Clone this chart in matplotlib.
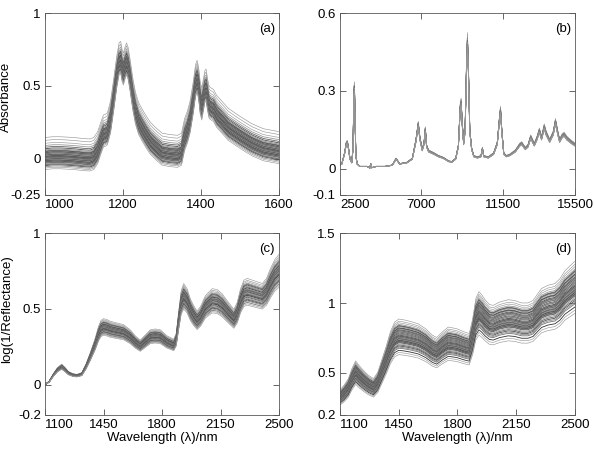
import numpy as np
import matplotlib
matplotlib.use('Agg')
import matplotlib.pyplot as plt

plt.rcParams['font.family'] = ['Liberation Sans', 'DejaVu Sans']

# (a) absorbance spectra, 1000-1600 nm: mean curve + per-sample baseline offsets
a_wl = [1000, 1020, 1040, 1060, 1080, 1100, 1115, 1125, 1135, 1145, 1150, 1155, 1160,
        1168, 1176, 1184, 1190, 1194, 1198, 1201, 1205, 1209, 1213, 1218, 1225, 1232,
        1240, 1250, 1260, 1270, 1285, 1300, 1320, 1340, 1350, 1358, 1365, 1372, 1380,
        1386, 1390, 1394, 1398, 1402, 1406, 1410, 1413, 1417, 1421, 1426, 1432, 1440,
        1450, 1470, 1500, 1530, 1560, 1580, 1600]
a_mean = [0.02, 0.025, 0.025, 0.022, 0.018, 0.012, 0.01, 0.02, 0.06, 0.14, 0.175, 0.18, 0.19,
          0.27, 0.42, 0.58, 0.67, 0.68, 0.62, 0.6, 0.64, 0.67, 0.64, 0.56, 0.43, 0.33,
          0.26, 0.21, 0.165, 0.125, 0.085, 0.05, 0.04, 0.035, 0.05, 0.15, 0.2, 0.27, 0.4,
          0.52, 0.55, 0.5, 0.4, 0.36, 0.42, 0.48, 0.49, 0.42, 0.37, 0.36, 0.35, 0.31,
          0.28, 0.22, 0.165, 0.115, 0.08, 0.07, 0.06]
a_offsets = [0.125, 0.105, 0.085, 0.07, 0.058, 0.048, 0.04, 0.033, 0.028, 0.024, 0.02, 0.016,
             0.012, 0.008, 0.005, 0.002, -0.001, -0.004, -0.007, -0.01, -0.013, -0.016,
             -0.019, -0.022, -0.025, -0.028, -0.031, -0.034, -0.037, -0.04, -0.044, -0.048,
             -0.052, -0.057, -0.062, -0.068, -0.076, -0.085, -0.095]

# (b) Raman-like spectra, 2500-15500: mean curve + per-sample scale
b_wn = [2400, 2600, 2750, 2850, 2900, 2950, 3050, 3150, 3220, 3270, 3300, 3330, 3380, 3450,
        3600, 4000, 4150, 4200, 4250, 4500, 5000, 5400, 5600, 5700, 5800, 6200, 6500, 6700,
        6830, 6920, 7050, 7150, 7220, 7290, 7400, 7700, 7950, 8150, 8300, 8500, 8700, 8900,
        9050, 9150, 9200, 9260, 9340, 9420, 9500, 9550, 9600, 9680, 9780, 9900, 10100, 10300,
        10380, 10450, 10700, 11000, 11200, 11330, 11380, 11450, 11560, 11700, 11900, 12200,
        12450, 12550, 12750, 12900, 13050, 13150, 13250, 13400, 13530, 13650, 13800, 13900,
        14100, 14300, 14420, 14550, 14650, 14800, 14900, 15050, 15300, 15500]
b_mean = [0.012, 0.02, 0.06, 0.1, 0.105, 0.09, 0.04, 0.025, 0.08, 0.3, 0.32, 0.2, 0.05, 0.02,
          0.01, 0.01, 0.004, 0.02, 0.005, 0.01, 0.01, 0.015, 0.04, 0.03, 0.02, 0.025, 0.04, 0.11,
          0.175, 0.12, 0.075, 0.1, 0.155, 0.09, 0.07, 0.06, 0.05, 0.045, 0.04, 0.03, 0.028, 0.04,
          0.09, 0.24, 0.26, 0.18, 0.1, 0.15, 0.4, 0.5, 0.4, 0.15, 0.08, 0.05, 0.045, 0.05,
          0.08, 0.05, 0.045, 0.06, 0.1, 0.2, 0.23, 0.15, 0.06, 0.05, 0.055, 0.07,
          0.095, 0.1, 0.08, 0.09, 0.125, 0.11, 0.095, 0.12, 0.15, 0.12, 0.165, 0.14,
          0.11, 0.14, 0.185, 0.14, 0.11, 0.13, 0.135, 0.12, 0.105, 0.095]
b_scales = [1.05, 1.035, 1.025, 1.015, 1.01, 1.005, 1.0, 0.995, 0.99, 0.985, 0.98, 0.975,
            0.97, 0.965, 0.96, 0.955, 0.95, 0.94, 0.93, 0.92]

# (c) log(1/R) spectra set 1, 1100-2500 nm
c_wl = [1100, 1125, 1150, 1175, 1200, 1220, 1240, 1265, 1290, 1320, 1345, 1370, 1400, 1420,
        1435, 1450, 1470, 1490, 1530, 1570, 1610, 1640, 1670, 1700, 1730, 1760, 1790, 1830,
        1870, 1885, 1900, 1915, 1930, 1950, 1970, 1990, 2010, 2030, 2060, 2100, 2130, 2160,
        2190, 2230, 2250, 2270, 2290, 2310, 2340, 2370, 2400, 2425, 2450, 2475, 2500]
c_mean = [0.0, 0.02, 0.064, 0.1, 0.12, 0.1, 0.077, 0.065, 0.06, 0.07, 0.12, 0.185, 0.27, 0.34,
          0.375, 0.385, 0.38, 0.37, 0.36, 0.35, 0.32, 0.285, 0.26, 0.29, 0.32, 0.325, 0.32, 0.285,
          0.265, 0.3, 0.43, 0.55, 0.59, 0.56, 0.5, 0.46, 0.43, 0.455, 0.52, 0.56, 0.555, 0.53,
          0.49, 0.44, 0.48, 0.56, 0.61, 0.62, 0.61, 0.6, 0.59, 0.62, 0.68, 0.73, 0.76]
c_scales = [1.13, 1.11, 1.095, 1.08, 1.07, 1.06, 1.05, 1.04, 1.03, 1.02, 1.01, 1.005, 1.0,
            0.995, 0.99, 0.985, 0.98, 0.97, 0.96, 0.955, 0.95, 0.94, 0.93, 0.92, 0.91, 0.9,
            0.89, 0.875, 0.86, 0.845]

# (d) log(1/R) spectra set 2, 1100-2500 nm
d_wl = [1100, 1125, 1150, 1170, 1193, 1215, 1240, 1270, 1300, 1325, 1350, 1375, 1400, 1425,
        1450, 1480, 1520, 1566, 1610, 1650, 1676, 1710, 1745, 1795, 1840, 1870, 1890, 1910,
        1928, 1945, 1964, 1990, 2013, 2050, 2102, 2140, 2182, 2220, 2250, 2280, 2301, 2340,
        2380, 2410, 2440, 2470, 2500]
d_mean = [0.33, 0.36, 0.4, 0.46, 0.51, 0.48, 0.45, 0.42, 0.4, 0.44, 0.52, 0.6, 0.69, 0.75,
          0.77, 0.765, 0.755, 0.74, 0.71, 0.67, 0.655, 0.69, 0.72, 0.71, 0.69, 0.68, 0.77, 0.9,
          0.94, 0.92, 0.89, 0.86, 0.855, 0.875, 0.89, 0.885, 0.87, 0.87, 0.885, 0.93, 0.96, 0.98,
          0.99, 1.02, 1.07, 1.1, 1.13]
d_scales = [1.15, 1.13, 1.115, 1.1, 1.09, 1.085, 1.08, 1.07, 1.065, 1.06, 1.05, 1.045, 1.04,
            1.035, 1.03, 1.02, 1.015, 1.01, 1.0, 0.995, 0.99, 0.985, 0.98, 0.975, 0.97, 0.965,
            0.96, 0.955, 0.95, 0.945, 0.94, 0.935, 0.93, 0.92, 0.91, 0.9, 0.89, 0.88, 0.86, 0.84,
            0.82]

grays = ['0.25', '0.5', '0.35', '0.6', '0.4', '0.3', '0.55', '0.45', '0.2', '0.5']


def draw_set(ax, x, mean, factors, additive, light=0.0):
    mean = np.asarray(mean)
    n = len(factors)
    for i, f in enumerate(factors):
        y = mean + f if additive else mean * f
        edge = i < 3 or i > n - 3
        g = 0.6 if edge else min(float(grays[i % len(grays)]) + light, 0.8)
        ax.plot(x, y, color=str(g), lw=0.45 if edge else 0.6)


def style(ax, xlim, xticks, ylim, yticks, ylabels, tag):
    ax.set_xlim(xlim)
    ax.set_ylim(ylim)
    ax.set_xticks(xticks)
    ax.set_yticks(yticks)
    ax.set_yticklabels(ylabels)
    ax.tick_params(direction='in', top=True, right=True, length=4, width=0.6,
                   labelsize=9.5, pad=3, color='0.3')
    for s in ax.spines.values():
        s.set_linewidth(0.6)
        s.set_color('0.35')
    ax.xaxis.get_major_ticks()[0].label1.set_horizontalalignment('left')
    ax.text(0.983, 0.912, tag, transform=ax.transAxes, ha='right', va='center', fontsize=9.5)


fig = plt.figure(figsize=(5.94, 4.5), dpi=100)
ax_a = fig.add_axes([0.0758, 0.5667, 0.3939, 0.4044])
ax_b = fig.add_axes([0.5724, 0.5667, 0.3956, 0.4044])
ax_c = fig.add_axes([0.0758, 0.0778, 0.3939, 0.4044])
ax_d = fig.add_axes([0.5724, 0.0778, 0.3956, 0.4044])

draw_set(ax_a, a_wl, a_mean, a_offsets, True)
draw_set(ax_b, b_wn, b_mean, b_scales, False, light=0.1)
draw_set(ax_c, c_wl, c_mean, c_scales, False)
draw_set(ax_d, d_wl, d_mean, d_scales, False)

style(ax_a, (1000, 1600), [1000, 1200, 1400, 1600], (-0.25, 1), [-0.25, 0, 0.5, 1],
      ['-0.25', '0', '0.5', '1'], '(a)')
style(ax_b, (2500, 15500), [2500, 7000, 11500, 15500], (-0.1, 0.6), [-0.1, 0, 0.3, 0.6],
      ['-0.1', '0', '0.3', '0.6'], '(b)')
style(ax_c, (1100, 2500), [1100, 1450, 1800, 2150, 2500], (-0.2, 1), [-0.2, 0, 0.5, 1],
      ['-0.2', '0', '0.5', '1'], '(c)')
style(ax_d, (1100, 2500), [1100, 1450, 1800, 2150, 2500], (0.2, 1.5), [0.2, 0.5, 1, 1.5],
      ['0.2', '0.5', '1', '1.5'], '(d)')

ax_a.set_ylabel('Absorbance', fontsize=9.5)
ax_a.yaxis.set_label_coords(-0.14, 0.54)
ax_c.set_ylabel('log(1/Reflectance)', fontsize=9.5)
ax_c.yaxis.set_label_coords(-0.135, 0.58)
for ax in (ax_c, ax_d):
    ax.set_xlabel('Wavelength (\u03bb)/nm', fontsize=9.5)
    ax.xaxis.set_label_coords(0.5, -0.093)

fig.savefig('out.png', dpi=100)
